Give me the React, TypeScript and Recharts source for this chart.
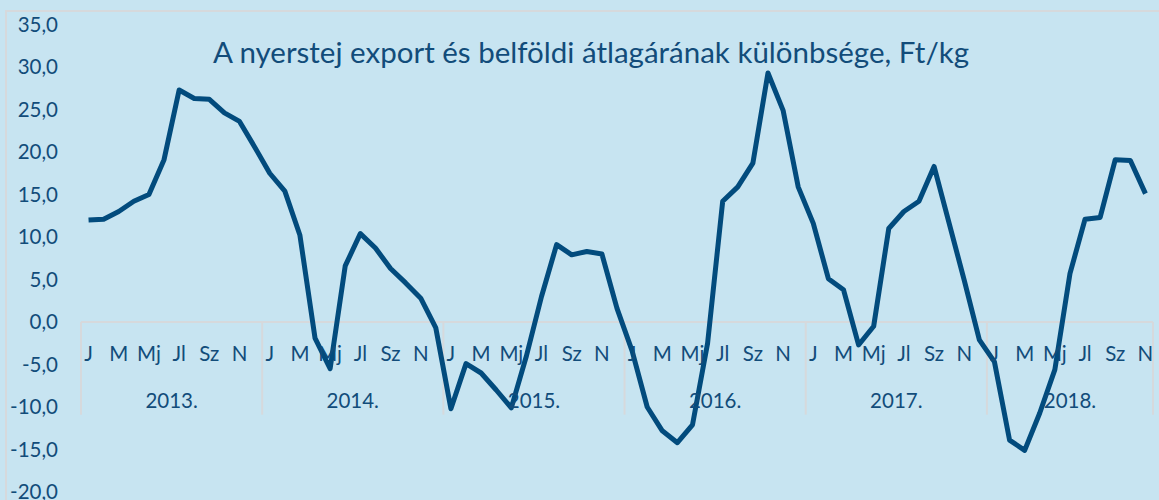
import React from 'react';
import { LineChart, Line, XAxis, YAxis, ReferenceLine } from 'recharts';

const years = ['2013.', '2014.', '2015.', '2016.', '2017.', '2018.'];
const monthLabels = ['J', '', 'M', '', 'Mj', '', 'Jl', '', 'Sz', '', 'N', ''];

const v2013 = [12.0, 12.1, 13.0, 14.2, 15.0, 19.1, 27.3, 26.3, 26.2, 24.6, 23.6, 20.6];
const v2014 = [17.5, 15.4, 10.2, -1.9, -5.5, 6.6, 10.4, 8.7, 6.3, 4.6, 2.8, -0.7];
const v2015 = [-10.2, -4.9, -6.0, -8.0, -10.1, -4.0, 3.0, 9.1, 7.9, 8.3, 8.0, 1.6];
const v2016 = [-3.4, -10.0, -12.8, -14.2, -12.1, -2.5, 14.2, 15.9, 18.7, 29.3, 24.9, 15.9];
const v2017 = [11.6, 5.1, 3.8, -2.7, -0.5, 11.0, 13.0, 14.2, 18.3, 11.6, 4.9, -2.1];
const v2018 = [-4.7, -13.9, -15.1, -10.7, -5.6, 5.7, 12.1, 12.3, 19.1, 19.0, 15.1];

const yTicks = [-20, -15, -10, -5, 0, 5, 10, 15, 20, 25, 30, 35];

const allValues = [v2013, v2014, v2015, v2016, v2017, v2018];
const data = allValues.flatMap((arr, yi) =>
  arr.map((v, m) => ({ i: yi * 12 + m, year: yi, month: m, value: v }))
);
const lastIndex = data.length - 1;
const yearBounds = [-0.5, 11.5, 23.5, 35.5, 47.5, 59.5, lastIndex + 0.5];

const W = 1159;
const H = 500;
const TOP = 24.5;
const BOTTOM = 8;
const X_AXIS_H = 2;
const Y_MIN = -20;
const Y_MAX = 35;
const plotH = H - TOP - BOTTOM;
const Y0 = TOP + (Y_MAX / (Y_MAX - Y_MIN)) * plotH;

const TEXT = '#124c7a';
const FONT = 'Lato, "Open Sans", sans-serif';
const GRID = '#d6d9dc';
const TICK_SIZE = 20.5;

const fmt = (v: number) => v.toFixed(1).replace('.', ',');

const MonthTick = (props: any) => {
  const { x, payload } = props;
  const d = data[payload.value];
  if (!d) return <g />;
  const bw = 1072 / data.length;
  const count = allValues[d.year].length;
  const label = monthLabels[d.month];
  const showYear = count === 12 ? d.month === 5 : d.month === Math.floor(count / 2);
  const yearX = count === 12 ? x + bw / 2 : x;
  return (
    <g>
      {label && (
        <text x={x} y={Y0 + 39} textAnchor="middle" fill={TEXT} fontSize={TICK_SIZE} fontFamily={FONT}>
          {label}
        </text>
      )}
      {showYear && (
        <text x={yearX} y={Y0 + 86} textAnchor="middle" fill={TEXT} fontSize={TICK_SIZE} fontFamily={FONT}>
          {years[d.year]}
        </text>
      )}
    </g>
  );
};

export default function App() {
  return (
    <div
      style={{
        position: 'absolute',
        left: 0,
        top: 0,
        width: W,
        height: H,
        background: '#c7e4f1',
        overflow: 'hidden',
      }}
    >
      <div
        style={{
          position: 'absolute',
          left: 5,
          top: 10,
          width: 1300,
          height: 700,
          border: `2px solid ${GRID}`,
        }}
      />
      <div
        style={{
          position: 'absolute',
          left: 0,
          top: 34,
          width: 1182,
          textAlign: 'center',
          color: TEXT,
          fontFamily: FONT,
          fontSize: 29.5,
          whiteSpace: 'nowrap',
        }}
      >
        A nyerstej export és belföldi átlagárának különbsége, Ft/kg
      </div>
      <div style={{ position: 'absolute', left: 0, top: 0 }}>
        <LineChart
          width={W}
          height={H}
          data={data}
          margin={{ top: TOP, right: 6, bottom: BOTTOM - X_AXIS_H, left: 0 }}
        >
          <XAxis
            dataKey="i"
            type="number"
            domain={[-0.5, lastIndex + 0.5]}
            ticks={data.map((d) => d.i)}
            interval={0}
            axisLine={false}
            tickLine={false}
            height={X_AXIS_H}
            tick={(p: any) => <MonthTick {...p} />}
          />
          <YAxis
            domain={[Y_MIN, Y_MAX]}
            ticks={yTicks}
            interval={0}
            width={81}
            axisLine={false}
            tickLine={false}
            tickSize={0}
            tickMargin={23}
            tickFormatter={fmt}
            tick={{ fill: TEXT, fontSize: TICK_SIZE, fontFamily: FONT }}
          />
          <ReferenceLine y={0} stroke={GRID} strokeWidth={2} />
          {yearBounds.map((b) => (
            <ReferenceLine
              key={b}
              segment={[{ x: b, y: 0 }, { x: b, y: -10.9 }]}
              stroke={GRID}
              strokeWidth={2}
            />
          ))}
          <Line
            dataKey="value"
            type="linear"
            stroke="#024b7d"
            strokeWidth={5}
            strokeLinejoin="round"
            dot={false}
            activeDot={false}
            isAnimationActive={false}
          />
        </LineChart>
      </div>
    </div>
  );
}
